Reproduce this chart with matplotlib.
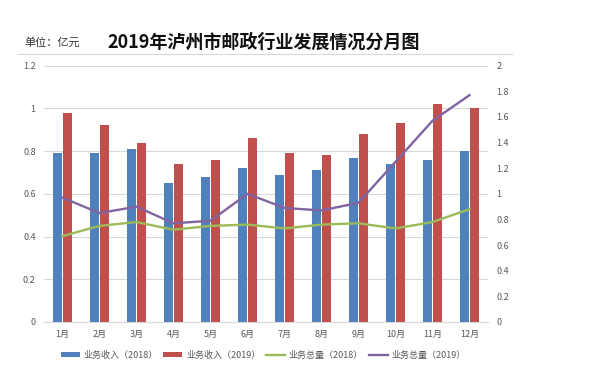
import matplotlib
matplotlib.use('Agg')
import matplotlib.pyplot as plt
import numpy as np

plt.rcParams['font.family'] = ['Noto Sans CJK SC', 'DejaVu Sans']

months = ['1月', '2月', '3月', '4月', '5月', '6月', '7月', '8月', '9月', '10月', '11月', '12月']
income_2018 = [0.79, 0.79, 0.81, 0.65, 0.68, 0.72, 0.69, 0.71, 0.77, 0.74, 0.76, 0.80]
income_2019 = [0.98, 0.92, 0.84, 0.74, 0.76, 0.86, 0.79, 0.78, 0.88, 0.93, 1.02, 1.00]
total_2018 = [0.67, 0.75, 0.78, 0.72, 0.75, 0.76, 0.73, 0.76, 0.77, 0.73, 0.78, 0.88]
total_2019 = [0.97, 0.85, 0.90, 0.77, 0.79, 1.00, 0.89, 0.87, 0.93, 1.25, 1.57, 1.77]

left_ticks = [0, 0.2, 0.4, 0.6, 0.8, 1, 1.2]
right_ticks = [0, 0.2, 0.4, 0.6, 0.8, 1, 1.2, 1.4, 1.6, 1.8, 2]

blue = '#4F81BD'
red = '#C0504D'
green = '#9BBB59'
purple = '#8064A2'
tick_color = '#595959'

fig = plt.figure(figsize=(6.15, 3.69), dpi=100)
ax = fig.add_axes([0.0715, 0.1274, 0.722, 0.6946])

x = np.arange(len(months))
w = 0.22
b1 = ax.bar(x - 0.135, income_2018, w, color=blue, label='业务收入（2018）', zorder=2)
b2 = ax.bar(x + 0.135, income_2019, w, color=red, label='业务收入（2019）', zorder=2)

ax.set_ylim(0, 1.2)
ax.set_xlim(-0.5, len(months) - 0.5)
ax.set_yticks(left_ticks)
ax.set_yticklabels(['0', '0.2', '0.4', '0.6', '0.8', '1', '1.2'])
ax.set_xticks(x)
ax.set_xticklabels(months)
ax.grid(axis='y', color='#D9D9D9', linewidth=0.8, zorder=0)
ax.tick_params(axis='both', length=0, labelsize=6.5, colors=tick_color, pad=6)
for s in ['top', 'left', 'right']:
    ax.spines[s].set_visible(False)
ax.spines['bottom'].set_color('#D9D9D9')

ax2 = ax.twinx()
l1, = ax2.plot(x, total_2018, color=green, linewidth=1.7, label='业务总量（2018）')
l2, = ax2.plot(x, total_2019, color=purple, linewidth=1.7, label='业务总量（2019）')
ax2.set_ylim(0, 2)
ax2.set_yticks(right_ticks)
ax2.set_yticklabels(['0', '0.2', '0.4', '0.6', '0.8', '1', '1.2', '1.4', '1.6', '1.8', '2'])
ax2.tick_params(axis='both', length=0, labelsize=6.5, colors=tick_color, pad=6)
for s in ['top', 'left', 'right', 'bottom']:
    ax2.spines[s].set_visible(False)

leg = fig.legend(handles=[b1, b2, l1, l2], loc='center', bbox_to_anchor=(0.428, 0.037),
                 ncol=4, frameon=False, fontsize=6.5, handlelength=2.1, handleheight=0.5,
                 handletextpad=0.45, columnspacing=0.6)
for t in leg.get_texts():
    t.set_color(tick_color)

fig.text(0.04, 0.885, '单位：亿元', fontsize=8, color='#333333', va='center')
fig.text(0.174, 0.885, '2019年泸州市邮政行业发展情况分月图', fontsize=13, fontweight='bold',
         color='#111111', va='center')
fig.add_artist(plt.Line2D([0.03, 0.832], [0.854, 0.854], color='#D9D9D9', linewidth=0.8))

fig.savefig('out.png', dpi=100)
